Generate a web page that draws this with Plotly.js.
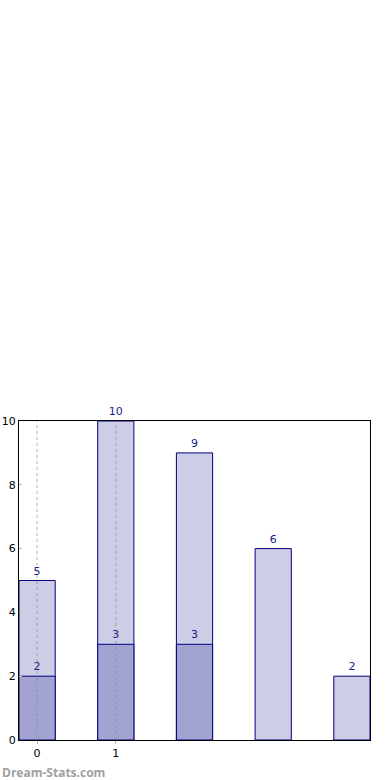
<!DOCTYPE html>
<html>
<head>
<meta charset="utf-8">
<script src="https://cdn.plot.ly/plotly-3.0.1.min.js"></script>
<style>html,body{margin:0;padding:0;background:#fff;}#chart{width:390px;height:780px;}</style>
</head>
<body>
<div id="chart"></div>
<script>
const categories = [0, 1, 2, 3, 4];
const totalValues = [5, 10, 9, 6, 2];
const partCategories = [0, 1, 2];
const partValues = [2, 3, 3];
const tickValues = [0, 1];
const tickLabels = ['0', '1'];
const yTicks = [0, 2, 4, 6, 8, 10];

const labelFont = {family: 'DejaVu Sans', size: 11, color: '#1a1a8c'};

const traces = [
  {
    type: 'bar', x: categories, y: totalValues, width: 0.46,
    marker: {color: '#cdcde6', line: {color: '#00007f', width: 1}},
    text: totalValues.map(String), textposition: 'outside', textfont: labelFont,
    cliponaxis: false, hoverinfo: 'skip'
  },
  {
    type: 'bar', x: partCategories, y: partValues, width: 0.46,
    marker: {color: '#a3a3d2', line: {color: '#00007f', width: 1}},
    text: partValues.map(String), textposition: 'outside', textfont: labelFont,
    cliponaxis: false, hoverinfo: 'skip'
  }
];

const gridShapes = tickValues.map(v => ({
  type: 'line', layer: 'above', xref: 'x', yref: 'paper', x0: v, x1: v, y0: 0, y1: 1,
  line: {color: 'rgba(140,140,140,0.6)', width: 1.2, dash: 'dot'}
}));

const layout = {
  width: 390, height: 780,
  margin: {l: 19, r: 20, t: 421, b: 40, pad: 0},
  paper_bgcolor: '#ffffff', plot_bgcolor: '#ffffff',
  barmode: 'overlay', showlegend: false,
  font: {family: 'DejaVu Sans', size: 11, color: '#000'},
  xaxis: {
    range: [-0.23, 4.23], tickvals: tickValues, ticktext: tickLabels,
    showgrid: false, zeroline: false, showline: true, linecolor: '#000', linewidth: 1, mirror: true,
    ticks: 'outside', ticklen: 3, tickcolor: '#bbb', tickfont: {family: 'DejaVu Sans', size: 11, color: '#000'}
  },
  yaxis: {
    range: [0, 10], tickvals: yTicks, showgrid: false, zeroline: false,
    showline: true, linecolor: '#000', linewidth: 1, mirror: true,
    ticks: 'inside', ticklen: 3, tickcolor: '#bbb', tickfont: {family: 'DejaVu Sans', size: 11, color: '#000'}
  },
  shapes: gridShapes,
  annotations: [{
    xref: 'paper', yref: 'paper', x: 0, y: 0, xanchor: 'left', yanchor: 'top',
    xshift: -19, yshift: -22,
    text: '<b>Dream-Stats.com</b>', showarrow: false,
    font: {family: 'Open Sans', size: 12, color: '#a0a0a0'}
  }]
};

Plotly.newPlot('chart', traces, layout, {displayModeBar: false, staticPlot: true});
</script>
</body>
</html>
